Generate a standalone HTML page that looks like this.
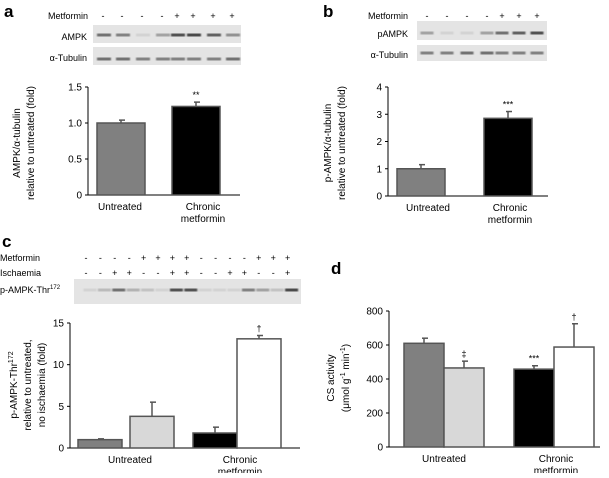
<!DOCTYPE html>
<html><head><meta charset="utf-8"><style>
body{margin:0;background:#fff;width:609px;height:473px;overflow:hidden}
svg{font-family:"Liberation Sans",sans-serif;font-size:10px}
</style></head><body>
<svg id="fig" width="609" height="473">
<defs><filter id="blur"><feGaussianBlur stdDeviation="0.8"/></filter></defs>
<text x="4" y="17" font-size="17" font-weight="bold">a</text>
<text x="323" y="17" font-size="17" font-weight="bold">b</text>
<text x="2" y="247" font-size="17" font-weight="bold">c</text>
<text x="331" y="274" font-size="17" font-weight="bold">d</text>
<g id="blots"></g>
<g id="charts"></g>
</svg>
<script>
// ---- chart data ----
const catsAB = ["Untreated", "Chronic metformin"];
const aValues = [1.0, 1.23];
const aErr = [1.04, 1.29];
const aTicks = [0, 0.5, 1.0, 1.5];
const aTickLabels = ["0", "0.5", "1.0", "1.5"];
const bValues = [1.0, 2.85];
const bErr = [1.15, 3.1];
const bTicks = [0, 1, 2, 3, 4];
const cValues = [1.0, 3.8, 1.8, 13.1];
const cErr = [1.1, 5.5, 2.5, 13.5];
const cTicks = [0, 5, 10, 15];
const dValues = [610, 465, 458, 588];
const dErr = [640, 505, 478, 725];
const dTicks = [0, 200, 400, 600, 800];
const fills4 = ["#808080", "#d8d8d8", "#000000", "#ffffff"];
const sigA = ["", "**"], sigB = ["", "***"], sigC = ["", "", "", "†"], sigD = ["", "‡", "***", "†"];

const NS = "http://www.w3.org/2000/svg";
const charts = document.getElementById('charts');
function mk(tag, attrs, parent, text) {
  const e = document.createElementNS(NS, tag);
  for (const k in attrs) e.setAttribute(k, attrs[k]);
  if (text !== undefined) e.textContent = text;
  (parent || charts).appendChild(e);
  return e;
}

function chart(opt) {
  const g = mk('g', {});
  
  
  const y = v => opt.y0 - (v - opt.min) / (opt.max - opt.min) * (opt.y0 - opt.yTop);
  // axes
  const ax = mk('line', {x1: opt.ax, y1: opt.yTop, x2: opt.ax, y2: opt.y0, stroke: '#000', 'stroke-width': 1}, g);
  
  
  const bx = mk('line', {x1: opt.ax, y1: opt.y0, x2: opt.xEnd, y2: opt.y0, stroke: '#000', 'stroke-width': 1}, g);
  
  
  opt.ticks.forEach((t, i) => {
    mk('line', {x1: opt.ax - 3, x2: opt.ax, y1: y(t), y2: y(t), stroke: '#000'}, g);
    const tl = mk('text', {x: opt.ax - 6, y: y(t) + 3.5, 'text-anchor': 'end'}, g, opt.tickLabels ? opt.tickLabels[i] : String(t));
    
    
  });
  // bars
  opt.values.forEach((v, i) => {
    const x0 = opt.barX[i], w = opt.barW;
    const cx = x0 + w / 2;
    const ep = mk('line', {x1: cx, x2: cx, y1: y(v), y2: y(opt.err[i]), stroke: '#555', 'stroke-width': 1.5}, g);
    
    
    mk('line', {x1: cx - 2, x2: cx + 4, y1: y(opt.err[i]), y2: y(opt.err[i]), stroke: '#555', 'stroke-width': 1.5}, g);
    const r = mk('rect', {x: x0, y: y(v), width: w, height: opt.y0 - y(v), fill: opt.fills[i], stroke: '#555', 'stroke-width': 1.5}, g);
    
    
    if (opt.sig[i]) {
      const s = mk('text', {x: cx, y: y(opt.err[i]) - 4, 'text-anchor': 'middle', 'font-size': 9}, g, opt.sig[i]);
      
      
    }
  });
  // category labels
  opt.catX.forEach((cx, i) => {
    if (i === 0) {
      const t = mk('text', {x: cx, y: opt.y0 + 15, 'text-anchor': 'middle'}, g, 'Untreated');
      
      
    } else {
      const t = mk('text', {x: cx, y: opt.y0 + 15, 'text-anchor': 'middle'}, g, 'Chronic');
      
      
      const t2 = mk('text', {x: cx, y: opt.y0 + 27, 'text-anchor': 'middle'}, g, 'metformin');
      
      
    }
  });
  // y title
  opt.title.forEach((line, i) => {
    const tx = opt.titleX[i], ty = opt.titleY;
    const t = mk('text', {x: tx, y: ty, 'text-anchor': 'middle', transform: `rotate(-90 ${tx} ${ty})`}, g);
    t.innerHTML = line;
    
    
  });
}

chart({name: 'chart-a', ax: 88, xEnd: 240, yTop: 87, y0: 195, min: 0, max: 1.5, ticks: aTicks, tickLabels: aTickLabels,
  values: aValues, err: aErr, barX: [97, 172], barW: 48, fills: ["#808080", "#000"], sig: sigA, catX: [120, 203],
  title: ["AMPK/α-tubulin", "relative to untreated (fold)"], titleX: [20, 34], titleY: 143});
chart({name: 'chart-b', ax: 388, xEnd: 548, yTop: 87, y0: 196, min: 0, max: 4, ticks: bTicks,
  values: bValues, err: bErr, barX: [397, 484], barW: 48, fills: ["#808080", "#000"], sig: sigB, catX: [428, 510],
  title: ["p-AMPK/α-tubulin", "relative to untreated (fold)"], titleX: [331, 345], titleY: 143});
chart({name: 'chart-c', ax: 70, xEnd: 300, yTop: 323, y0: 448, min: 0, max: 15, ticks: cTicks,
  values: cValues, err: cErr, barX: [78, 130, 193, 237], barW: 44, fills: fills4, sig: sigC, catX: [130, 240],
  title: ["p-AMPK-Thr<tspan font-size='7' dy='-4'>172</tspan>", "relative to untreated,", "no ischaemia (fold)"], titleX: [17, 31, 45], titleY: 385});
chart({name: 'chart-d', ax: 389, xEnd: 600, yTop: 311, y0: 447, min: 0, max: 800, ticks: dTicks,
  values: dValues, err: dErr, barX: [404, 444, 514, 554], barW: 40, fills: fills4, sig: sigD, catX: [444, 556],
  title: ["CS activity", "(μmol g<tspan font-size='7' dy='-4'>-1</tspan><tspan dy='4'> min</tspan><tspan font-size='7' dy='-4'>-1</tspan><tspan dy='4'>)</tspan>"], titleX: [334, 349], titleY: 378});

// ---- blots ----
const blots = document.getElementById('blots');
function txt(x, y, s, anchor, name, size) {
  const t = mk('text', {x, y, 'text-anchor': anchor || 'end', 'font-size': size || 9}, blots);
  t.innerHTML = s;
  
  
}
function box(x, y, w, h, name) {
  const r = mk('rect', {x, y, width: w, height: h, fill: '#e4e4e4'}, blots);
  
  
}
function band(cx, cy, w, op) {
  mk('rect', {x: cx - w / 2, y: cy - 1.3, width: w, height: 2.6, fill: '#222', opacity: op, filter: 'url(#blur)'}, blots);
}
// a
txt(88, 19, 'Metformin', 'end', 'metformin-row-label');
const aLanes = [103, 122, 142, 162, 177, 193, 213, 232];
const aSigns = ['-', '-', '-', '-', '+', '+', '+', '+'];
aLanes.forEach((x, i) => txt(x, 19, aSigns[i], 'middle', 'lane-sign'));
txt(87, 40, 'AMPK', 'end', 'ampk-row-label');
txt(87, 61, 'α-Tubulin', 'end', 'tubulin-row-label');
box(93, 25, 148, 18, 'ampk-blot');
box(93, 47, 148, 18, 'tubulin-blot-a');
[0.7, 0.6, 0.1, 0.4, 0.9, 0.95, 0.8, 0.5].forEach((o, i) => band(aLanes[i] + 1, 35, 14, o));
[0.7, 0.7, 0.6, 0.6, 0.6, 0.6, 0.6, 0.7].forEach((o, i) => band(aLanes[i] + 1, 59, 14, o));
// b
txt(408, 19, 'Metformin', 'end', 'metformin-row-label-b');
const bLanes = [427, 447, 467, 487, 502, 519, 537];
const bSigns = ['-', '-', '-', '-', '+', '+', '+'];
bLanes.forEach((x, i) => txt(x, 19, bSigns[i], 'middle', 'lane-sign'));
txt(408, 37, 'pAMPK', 'end', 'pampk-row-label');
txt(408, 58, 'α-Tubulin', 'end', 'tubulin-row-label-b');
box(417, 21, 130, 19, 'pampk-blot');
box(417, 45, 130, 16, 'tubulin-blot-b');
[0.4, 0.1, 0.1, 0.4, 0.7, 0.8, 0.9].forEach((o, i) => band(bLanes[i], 33, 13, o));
[0.6, 0.6, 0.7, 0.7, 0.6, 0.6, 0.6].forEach((o, i) => band(bLanes[i], 53, 13, o));
// c
txt(0, 261, 'Metformin', 'start', 'metformin-row-label-c');
txt(0, 276, 'Ischaemia', 'start', 'ischaemia-row-label');
txt(0, 293, 'p-AMPK-Thr<tspan font-size="6" dy="-4">172</tspan>', 'start', 'pampk-thr172-row-label');
const cMet = ['-', '-', '-', '-', '+', '+', '+', '+', '-', '-', '-', '-', '+', '+', '+'];
const cIsch = ['-', '-', '+', '+', '-', '-', '+', '+', '-', '-', '+', '+', '-', '-', '+'];
const cLanes = cMet.map((_, i) => 86 + i * 14.4);
cLanes.forEach((x, i) => { txt(x, 261, cMet[i], 'middle', 'lane-sign'); txt(x, 276, cIsch[i], 'middle', 'lane-sign'); });
box(74, 279, 227, 25, 'pampk-thr172-blot');
[0.1, 0.25, 0.7, 0.3, 0.2, 0.1, 0.9, 0.9, 0.1, 0.1, 0.1, 0.6, 0.4, 0.2, 0.95].forEach((o, i) => band(cLanes[i] + 4, 290, 13, o));
</script>
</body></html>
